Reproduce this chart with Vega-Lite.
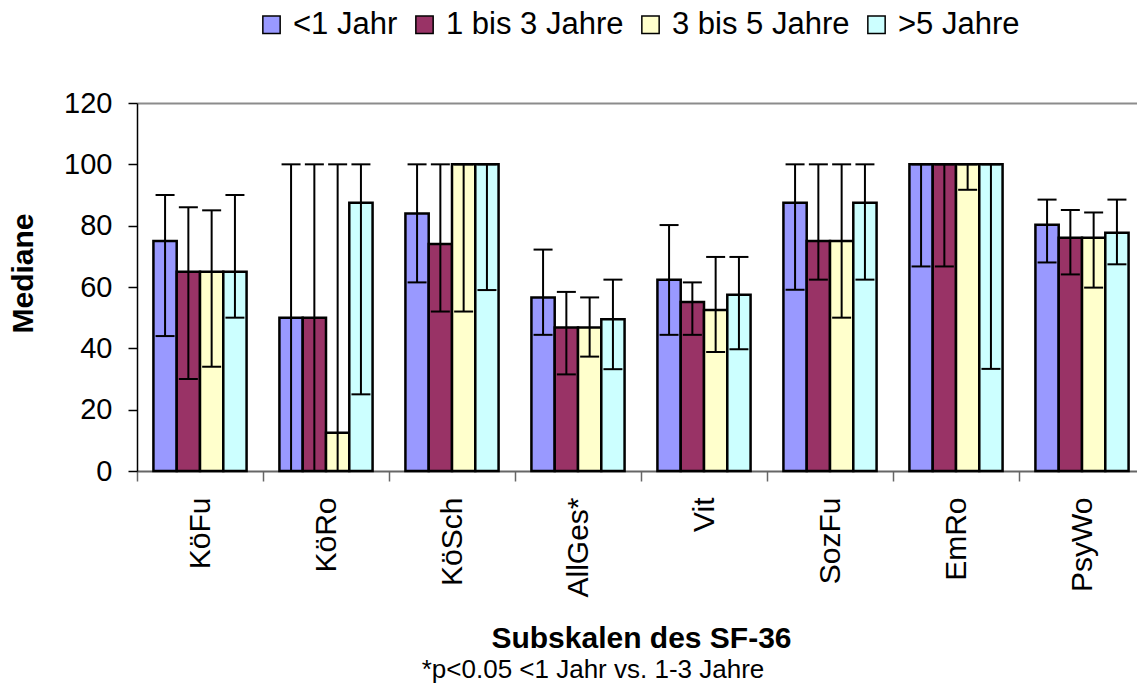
{
  "$schema": "https://vega.github.io/schema/vega-lite/v6.json",
  "width": 1000,
  "height": 368,
  "autosize": {"type": "none"},
  "padding": {"left": 137, "top": 103, "right": 0, "bottom": 221},
  "background": "white",
  "config": {
    "font": "Liberation Sans",
    "view": {"stroke": null},
    "axis": {"labelFont": "Liberation Sans", "titleFont": "Liberation Sans", "labelColor": "#000", "titleColor": "#000"}
  },
  "title": {
    "text": "*p<0.05 <1 Jahr vs. 1-3 Jahre",
    "orient": "bottom",
    "anchor": "middle",
    "fontSize": 26,
    "fontWeight": "normal",
    "font": "Liberation Sans",
    "color": "#000",
    "dx": -44,
    "offset": 4
  },
  "data": {
    "values": [
      {"cat": "KöFu", "group": "<1 Jahr", "median": 75, "lo": 44, "hi": 90},
      {"cat": "KöFu", "group": "1 bis 3 Jahre", "median": 65, "lo": 30, "hi": 86},
      {"cat": "KöFu", "group": "3 bis 5 Jahre", "median": 65, "lo": 34, "hi": 85},
      {"cat": "KöFu", "group": ">5 Jahre", "median": 65, "lo": 50, "hi": 90},
      {"cat": "KöRo", "group": "<1 Jahr", "median": 50, "lo": 0, "hi": 100},
      {"cat": "KöRo", "group": "1 bis 3 Jahre", "median": 50, "lo": 0, "hi": 100},
      {"cat": "KöRo", "group": "3 bis 5 Jahre", "median": 12.5, "lo": 0, "hi": 100},
      {"cat": "KöRo", "group": ">5 Jahre", "median": 87.5, "lo": 25, "hi": 100},
      {"cat": "KöSch", "group": "<1 Jahr", "median": 84, "lo": 61.5, "hi": 100},
      {"cat": "KöSch", "group": "1 bis 3 Jahre", "median": 74, "lo": 52, "hi": 100},
      {"cat": "KöSch", "group": "3 bis 5 Jahre", "median": 100, "lo": 52, "hi": 100},
      {"cat": "KöSch", "group": ">5 Jahre", "median": 100, "lo": 59, "hi": 100},
      {"cat": "AllGes*", "group": "<1 Jahr", "median": 56.6, "lo": 44.4, "hi": 72.2},
      {"cat": "AllGes*", "group": "1 bis 3 Jahre", "median": 46.8, "lo": 31.5, "hi": 58.4},
      {"cat": "AllGes*", "group": "3 bis 5 Jahre", "median": 46.8, "lo": 37.3, "hi": 56.6},
      {"cat": "AllGes*", "group": ">5 Jahre", "median": 49.5, "lo": 33.2, "hi": 62.4},
      {"cat": "Vit", "group": "<1 Jahr", "median": 62.4, "lo": 44.4, "hi": 80.2},
      {"cat": "Vit", "group": "1 bis 3 Jahre", "median": 55.1, "lo": 44.4, "hi": 61.5},
      {"cat": "Vit", "group": "3 bis 5 Jahre", "median": 52.5, "lo": 38.8, "hi": 69.8},
      {"cat": "Vit", "group": ">5 Jahre", "median": 57.5, "lo": 39.7, "hi": 69.8},
      {"cat": "SozFu", "group": "<1 Jahr", "median": 87.5, "lo": 59.1, "hi": 100},
      {"cat": "SozFu", "group": "1 bis 3 Jahre", "median": 75, "lo": 62.4, "hi": 100},
      {"cat": "SozFu", "group": "3 bis 5 Jahre", "median": 75, "lo": 50, "hi": 100},
      {"cat": "SozFu", "group": ">5 Jahre", "median": 87.5, "lo": 62.4, "hi": 100},
      {"cat": "EmRo", "group": "<1 Jahr", "median": 100, "lo": 66.7, "hi": 100},
      {"cat": "EmRo", "group": "1 bis 3 Jahre", "median": 100, "lo": 66.7, "hi": 100},
      {"cat": "EmRo", "group": "3 bis 5 Jahre", "median": 100, "lo": 91.7, "hi": 100},
      {"cat": "EmRo", "group": ">5 Jahre", "median": 100, "lo": 33.3, "hi": 100},
      {"cat": "PsyWo", "group": "<1 Jahr", "median": 80.3, "lo": 68, "hi": 88.5},
      {"cat": "PsyWo", "group": "1 bis 3 Jahre", "median": 76.1, "lo": 64.1, "hi": 85.1},
      {"cat": "PsyWo", "group": "3 bis 5 Jahre", "median": 76.1, "lo": 59.8, "hi": 84.3},
      {"cat": "PsyWo", "group": ">5 Jahre", "median": 77.7, "lo": 67.4, "hi": 88.5}
    ]
  },
  "encoding": {
    "x": {
      "field": "cat",
      "type": "nominal",
      "sort": null,
      "scale": {"range": [0, 1008], "paddingInner": 0, "paddingOuter": 0},
      "axis": {
        "title": "Subskalen des SF-36",
        "titleFontSize": 30,
        "titleFontWeight": "bold",
        "titleBaseline": "middle",
        "titleY": 167,
        "titleX": 504,
        "labelAngle": -90,
        "labelAlign": "right",
        "labelBaseline": "middle",
        "labelFontSize": 30,
        "labelPadding": 16,
        "tickBand": "extent",
        "tickSize": 10,
        "tickColor": "#666",
        "tickWidth": 1.5,
        "domainColor": "#666",
        "domainWidth": 2
      }
    },
    "xOffset": {
      "field": "group",
      "type": "nominal",
      "sort": ["<1 Jahr", "1 bis 3 Jahre", "3 bis 5 Jahre", ">5 Jahre"],
      "scale": {"paddingInner": 0, "paddingOuter": 0.705}
    }
  },
  "layer": [
    {
      "mark": {"type": "bar", "stroke": "#000", "strokeWidth": 2.5},
      "encoding": {
        "y": {
          "field": "median",
          "type": "quantitative",
          "scale": {"domain": [0, 120], "nice": false},
          "axis": {
            "title": "Mediane",
            "titleFontSize": 30,
            "titleFontWeight": "bold",
            "titleX": -114,
            "titleY": 170,
            "titleAlign": "center",
            "titleBaseline": "middle",
            "titleAngle": 270,
            "values": [0, 20, 40, 60, 80, 100, 120],
            "labelFontSize": 29,
            "labelPadding": 16,
            "tickSize": 9,
            "tickColor": "#000",
            "tickWidth": 1.5,
            "domainColor": "#000",
            "domainWidth": 1.5,
            "grid": true,
            "gridColor": "#8c8c8c",
            "gridWidth": 2,
            "gridOpacity": {"condition": {"test": "datum.value === 120", "value": 1}, "value": 0}
          }
        },
        "color": {
          "field": "group",
          "type": "nominal",
          "sort": ["<1 Jahr", "1 bis 3 Jahre", "3 bis 5 Jahre", ">5 Jahre"],
          "scale": {
            "domain": ["<1 Jahr", "1 bis 3 Jahre", "3 bis 5 Jahre", ">5 Jahre"],
            "range": ["#9999FF", "#993366", "#FFFFCC", "#CCFFFF"]
          },
          "legend": {
            "title": null,
            "orient": "none",
            "direction": "horizontal",
            "columns": 4,
            "legendX": 119,
            "legendY": -94,
            "padding": 0,
            "symbolType": "square",
            "symbolSize": 300,
            "symbolStrokeColor": "#000",
            "symbolStrokeWidth": 1.5,
            "symbolOpacity": 1,
            "labelFontSize": 31,
            "labelLimit": 0,
            "labelFont": "Liberation Sans",
            "labelColor": "#000",
            "labelOffset": 6,
            "columnPadding": 11
          }
        }
      }
    },
    {
      "mark": {"type": "rule", "color": "#000", "strokeWidth": 2},
      "encoding": {
        "y": {"field": "lo", "type": "quantitative"},
        "y2": {"field": "hi"}
      }
    },
    {
      "mark": {"type": "tick", "color": "#000", "size": 19, "thickness": 2, "opacity": 1},
      "encoding": {"y": {"field": "hi", "type": "quantitative"}}
    },
    {
      "mark": {"type": "tick", "color": "#000", "size": 19, "thickness": 2, "opacity": 1},
      "encoding": {"y": {"field": "lo", "type": "quantitative"}}
    }
  ]
}
